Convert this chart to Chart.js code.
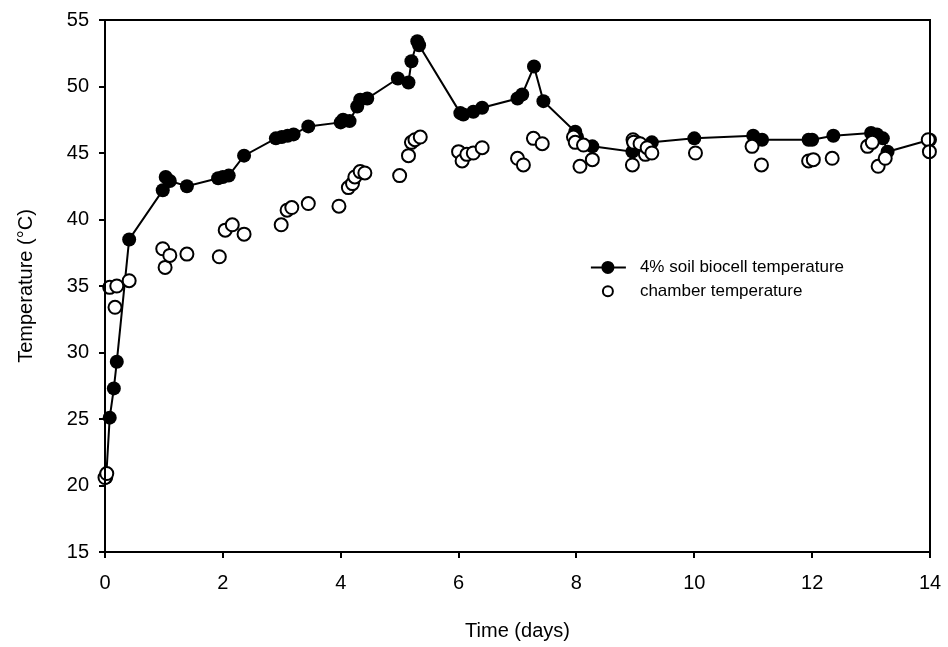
<!DOCTYPE html>
<html>
<head>
<meta charset="utf-8">
<script src="https://cdn.jsdelivr.net/npm/chart.js@4/dist/chart.umd.min.js"></script>
<style>
  html, body { margin: 0; padding: 0; background: #fff; }
  #wrap { width: 948px; height: 647px; }
</style>
</head>
<body>
<div id="wrap"><canvas id="chart" width="948" height="647"></canvas></div>
<script>
// ── data ─────────────────────────────────────────────────
const biocellDays = [0.02, 0.08, 0.15, 0.2, 0.41, 0.98, 1.03, 1.1, 1.39, 1.92, 2.0, 2.1, 2.36,
  2.9, 3.0, 3.1, 3.2, 3.45, 4.0, 4.04, 4.15, 4.28, 4.33, 4.45, 4.97, 5.15, 5.2, 5.3, 5.33,
  6.03, 6.08, 6.25, 6.4, 7.0, 7.08, 7.28, 7.44, 7.98, 8.01, 8.27, 8.95, 9.03, 9.28,
  10.0, 11.0, 11.15, 11.94, 12.0, 12.36, 13.0, 13.1, 13.2, 13.28, 14.0];
const biocellTemp = [20.6, 25.1, 27.3, 29.3, 38.5, 42.2, 43.2, 42.9, 42.5, 43.1, 43.2, 43.3, 44.8,
  46.1, 46.2, 46.3, 46.4, 47.0, 47.3, 47.5, 47.4, 48.5, 49.0, 49.1, 50.6, 50.3, 51.9, 53.4, 53.1,
  48.0, 47.9, 48.1, 48.4, 49.1, 49.4, 51.5, 48.9, 46.6, 46.2, 45.5, 45.1, 45.8, 45.8,
  46.1, 46.3, 46.0, 46.0, 46.0, 46.3, 46.5, 46.4, 46.1, 45.1, 46.0];

const chamberDays = [0.0, 0.03, 0.08, 0.17, 0.2, 0.41, 0.98, 1.02, 1.1, 1.39, 1.94, 2.04,
  2.16, 2.36, 2.99, 3.09, 3.17, 3.45, 3.97, 4.13, 4.2, 4.24, 4.33, 4.41, 5.0, 5.15, 5.2,
  5.26, 5.35, 6.0, 6.06, 6.14, 6.25, 6.4, 7.0, 7.1, 7.27, 7.42, 7.95, 7.98, 8.06, 8.12,
  8.27, 8.95, 8.96, 8.97, 9.08, 9.17, 9.2, 9.28, 10.02, 10.98, 11.14, 11.94, 12.02, 12.34,
  12.94, 13.02, 13.12, 13.24, 13.97, 13.99];
const chamberTemp = [20.6, 20.9, 34.9, 33.4, 35.0, 35.4, 37.8, 36.4, 37.3, 37.4, 37.2, 39.2,
  39.6, 38.9, 39.6, 40.7, 40.9, 41.2, 41.0, 42.4, 42.7, 43.2, 43.6, 43.5, 43.3, 44.8, 45.8,
  46.0, 46.2, 45.1, 44.4, 44.9, 45.0, 45.4, 44.6, 44.1, 46.1, 45.7, 46.2, 45.8, 44.0, 45.6,
  44.5, 44.1, 46.0, 45.8, 45.7, 44.9, 45.4, 45.0, 45.0, 45.5, 44.1, 44.4, 44.5, 44.6,
  45.5, 45.8, 44.0, 44.6, 46.0, 45.1];

const xTicks = [0, 2, 4, 6, 8, 10, 12, 14];
const yTicks = [15, 20, 25, 30, 35, 40, 45, 50, 55];

const seriesNames = ['4% soil biocell temperature', 'chamber temperature'];

// ── chart ────────────────────────────────────────────────
const FONT = 'Liberation Sans, Arial, sans-serif';

// stop tick labels from pushing the plot area inwards
const noLabelPad = s => {
  s.paddingLeft = 0; s.paddingRight = 0;
  s.paddingTop = 0; s.paddingBottom = 0;
};

const frame = {
  id: 'frame',
  afterDatasetsDraw(chart) {
    const { ctx, chartArea: a } = chart;
    ctx.save();
    ctx.strokeStyle = '#000';
    ctx.lineWidth = 2;
    ctx.strokeRect(a.left, a.top, a.right - a.left, a.bottom - a.top);
    ctx.restore();
  }
};

// legend drawn in data space so it stays with the plot
const legendBox = {
  id: 'legendBox',
  afterDraw(chart) {
    const { ctx, scales } = chart;
    const x0 = scales.x.getPixelForValue(8.5);
    const y0 = scales.y.getPixelForValue(36.4);
    const y1 = scales.y.getPixelForValue(34.6);
    ctx.save();
    ctx.strokeStyle = '#000';
    ctx.lineWidth = 2;
    ctx.beginPath();
    ctx.moveTo(x0 - 15, y0);
    ctx.lineTo(x0 + 20, y0);
    ctx.stroke();
    ctx.fillStyle = '#000';
    ctx.beginPath();
    ctx.arc(x0 + 2, y0, 6.5, 0, Math.PI * 2);
    ctx.fill();
    ctx.fillStyle = '#fff';
    ctx.beginPath();
    ctx.arc(x0 + 2, y1, 5, 0, Math.PI * 2);
    ctx.fill();
    ctx.stroke();
    ctx.fillStyle = '#000';
    ctx.font = '17px ' + FONT;
    ctx.textBaseline = 'middle';
    ctx.fillText(seriesNames[0], x0 + 34, y0);
    ctx.fillText(seriesNames[1], x0 + 34, y1);
    ctx.restore();
  }
};

new Chart(document.getElementById('chart'), {
  type: 'scatter',
  data: {
    datasets: [
      {
        label: seriesNames[1],
        data: chamberDays.map((d, i) => ({ x: d, y: chamberTemp[i] })),
        showLine: false,
        clip: false,
        pointRadius: 6.5,
        pointBorderWidth: 2,
        pointBackgroundColor: '#fff',
        pointBorderColor: '#000',
        order: 0
      },
      {
        label: seriesNames[0],
        data: biocellDays.map((d, i) => ({ x: d, y: biocellTemp[i] })),
        showLine: true,
        clip: false,
        borderColor: '#000',
        borderWidth: 2,
        pointRadius: 7,
        pointBorderWidth: 0,
        pointBackgroundColor: '#000',
        pointBorderColor: '#000',
        order: 1
      }
    ]
  },
  options: {
    responsive: false,
    animation: false,
    layout: { padding: { top: 20, right: 18, left: 0, bottom: 0 } },
    plugins: { legend: { display: false }, tooltip: { enabled: false } },
    scales: {
      x: {
        type: 'linear',
        min: 0, max: 14,
        afterBuildTicks: s => { s.ticks = xTicks.map(v => ({ value: v })); },
        afterFit: s => { s.height = 95; noLabelPad(s); },
        grid: { drawOnChartArea: false, drawTicks: true, tickLength: 6, color: '#000', lineWidth: 2 },
        border: { display: false },
        ticks: { color: '#000', font: { family: FONT, size: 20 }, padding: 13, maxRotation: 0 },
        title: { display: true, text: 'Time (days)', color: '#000', font: { family: FONT, size: 20 }, padding: { top: 14 } }
      },
      y: {
        min: 15, max: 55,
        afterBuildTicks: s => { s.ticks = yTicks.map(v => ({ value: v })); },
        afterFit: s => { s.width = 105; noLabelPad(s); },
        grid: { drawOnChartArea: false, drawTicks: true, tickLength: 6, color: '#000', lineWidth: 2 },
        border: { display: false },
        ticks: { color: '#000', font: { family: FONT, size: 20 }, padding: 10 },
        title: { display: true, text: 'Temperature (°C)', color: '#000', font: { family: FONT, size: 20 }, padding: { top: 14, bottom: 0 } }
      }
    }
  },
  plugins: [frame, legendBox]
});
</script>
</body>
</html>
